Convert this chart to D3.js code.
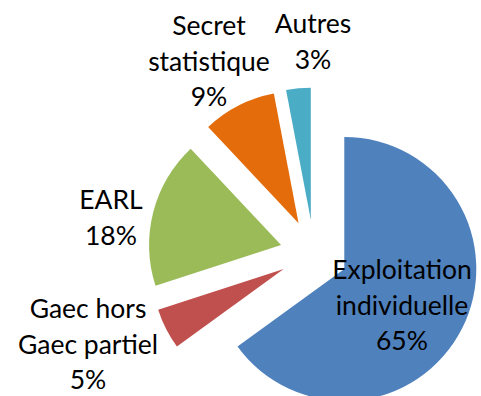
<!DOCTYPE html>
<html>
<head>
<meta charset="utf-8">
<script src="https://cdn.jsdelivr.net/npm/d3@7/dist/d3.min.js"></script>
<style>
  html, body { margin: 0; padding: 0; background: #fff; }
  svg { display: block; }
</style>
</head>
<body>
<svg id="chart" width="481" height="396"></svg>
<script>
// Répartition des exploitations par forme juridique (en %)
const categories = ["Exploitation individuelle", "Gaec hors Gaec partiel", "EARL", "Secret statistique", "Autres"];
const shares = [65, 5, 18, 9, 3];
const labelLines = [["Exploitation", "individuelle"], ["Gaec hors", "Gaec partiel"], ["EARL"], ["Secret", "statistique"], ["Autres"]];
const colors = ["#4F81BD", "#C0504D", "#9BBB59", "#E46C0A", "#4BACC6"];

// Layout
const W = 481, H = 396;
const cx = 314, cy = 253.5;   // pie centre
const radius = 132;
const explode = 34;           // every slice pulled out from the centre
const lineHeight = 35.5;
// label anchors: centre x and first baseline y
const labelPos = [[402, 279], [88, 318], [111, 209], [209, 35], [313, 33]];

const svg = d3.select("#chart");

const pie = d3.pie().sort(null).value(d => d.value).startAngle(0).endAngle(2 * Math.PI);
const arc = d3.arc().innerRadius(0).outerRadius(radius);

const data = categories.map((c, i) => ({ name: c, value: shares[i], color: colors[i], lines: labelLines[i], pos: labelPos[i] }));
const arcs = pie(data);

const g = svg.append("g").attr("transform", `translate(${cx},${cy})`);

g.selectAll("path.slice")
  .data(arcs)
  .join("path")
  .attr("class", "slice")
  .attr("fill", d => d.data.color)
  .attr("transform", d => {
    const mid = (d.startAngle + d.endAngle) / 2;
    return `translate(${explode * Math.sin(mid)},${-explode * Math.cos(mid)})`;
  })
  .attr("d", arc);

const labels = svg.append("g")
  .attr("font-family", "Lato, 'Noto Sans', sans-serif")
  .attr("font-size", 26.5)
  .attr("fill", "#000")
  .attr("text-anchor", "middle");

data.forEach(d => {
  const t = labels.append("text").attr("x", d.pos[0]).attr("y", d.pos[1]);
  const lines = d.lines.concat([d.value + "%"]);
  lines.forEach((ln, j) => {
    t.append("tspan").attr("x", d.pos[0]).attr("y", d.pos[1] + j * lineHeight).text(ln);
  });
});
</script>
</body>
</html>
